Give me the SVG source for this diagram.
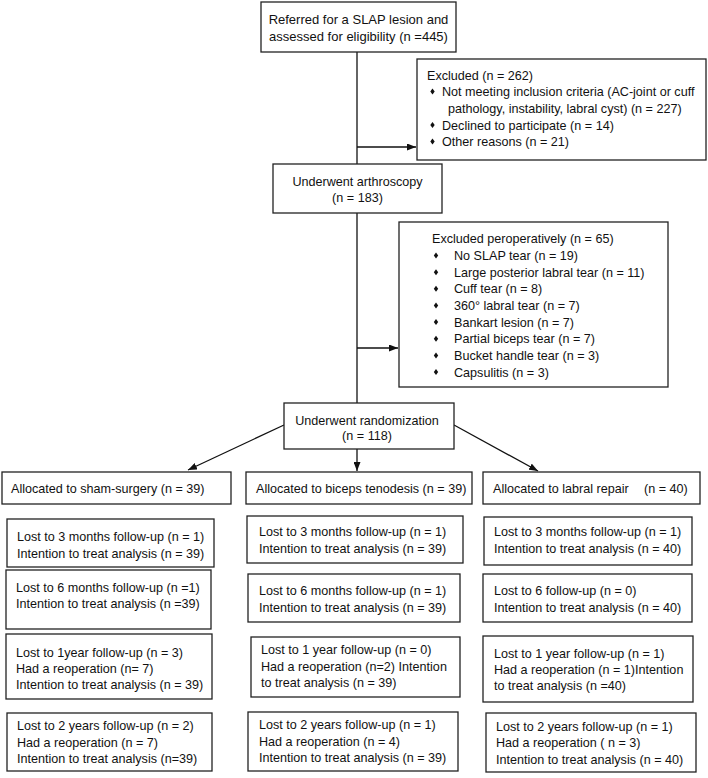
<svg xmlns="http://www.w3.org/2000/svg" xmlns:xlink="http://www.w3.org/1999/xlink" width="708" height="778" viewBox="0 0 708 778">
<style>
  .box { fill: #fff; stroke: #222; stroke-width: 1.3; }
  .t { font-family: "Liberation Sans", Arial, sans-serif; font-size: 12.6px; fill: #111; }
  .big { font-size: 13px; }
  .c { text-anchor: middle; }
  .ln { stroke: #111; stroke-width: 1.3; fill: none; }
  .bul { fill: #111; }
</style>
<defs>
  <marker id="ah" markerWidth="9" markerHeight="7" refX="9" refY="3.5" orient="auto" markerUnits="userSpaceOnUse">
    <path d="M0,0 L9,3.5 L0,7 z" fill="#111"/>
  </marker>
  <path id="b" d="M0,-3 L2.2,0 L0,3 L-2.2,0 z"/>
</defs>
<rect width="708" height="778" fill="#fff"/>

<g id="connectors">
  <line class="ln" x1="357" y1="52" x2="357" y2="164"/>
  <line class="ln" x1="357" y1="147" x2="416" y2="147" marker-end="url(#ah)"/>
  <line class="ln" x1="357" y1="213" x2="357" y2="403"/>
  <line class="ln" x1="357" y1="348" x2="398" y2="348" marker-end="url(#ah)"/>
  <line class="ln" x1="284" y1="425" x2="188" y2="470" marker-end="url(#ah)"/>
  <line class="ln" x1="357" y1="449" x2="357" y2="471" marker-end="url(#ah)"/>
  <line class="ln" x1="454" y1="425" x2="538" y2="471" marker-end="url(#ah)"/>
</g>

<g id="referred">
  <rect class="box" x="261" y="2" width="195" height="50"/>
  <text class="t big c" x="358.5" y="23.5">Referred for a SLAP lesion and</text>
  <text class="t big c" x="358.5" y="40.5">assessed for eligibility (n =445)</text>
</g>

<g id="excluded">
  <rect class="box" x="417" y="59" width="289" height="101"/>
  <text class="t" x="427" y="79.5">Excluded (n = 262)</text>
  <use class="bul" xlink:href="#b" x="432.5" y="91.5"/>
  <text class="t" x="442" y="96">Not meeting inclusion criteria (AC-joint or cuff</text>
  <text class="t" x="448" y="112.5">pathology, instability, labral cyst) (n = 227)</text>
  <use class="bul" xlink:href="#b" x="432.5" y="125"/>
  <text class="t" x="442" y="129.5">Declined to participate (n = 14)</text>
  <use class="bul" xlink:href="#b" x="432.5" y="141.5"/>
  <text class="t" x="442" y="146">Other reasons (n = 21)</text>
</g>

<g id="arthroscopy">
  <rect class="box" x="273" y="164" width="169" height="49"/>
  <text class="t c" x="357.5" y="186">Underwent arthroscopy</text>
  <text class="t c" x="357.5" y="201.5">(n = 183)</text>
</g>

<g id="peroperative">
  <rect class="box" x="399" y="222" width="269" height="165"/>
  <text class="t" x="432" y="242.5">Excluded peroperatively (n = 65)</text>
  <use class="bul" xlink:href="#b" x="436" y="255.5"/>
  <text class="t" x="454" y="260">No SLAP tear (n = 19)</text>
  <use class="bul" xlink:href="#b" x="436" y="272.2"/>
  <text class="t" x="454" y="276.7">Large posterior labral tear (n = 11)</text>
  <use class="bul" xlink:href="#b" x="436" y="288.8"/>
  <text class="t" x="454" y="293.3">Cuff tear (n = 8)</text>
  <use class="bul" xlink:href="#b" x="436" y="305.5"/>
  <text class="t" x="454" y="310">360° labral tear (n = 7)</text>
  <use class="bul" xlink:href="#b" x="436" y="322.1"/>
  <text class="t" x="454" y="326.6">Bankart lesion (n = 7)</text>
  <use class="bul" xlink:href="#b" x="436" y="338.8"/>
  <text class="t" x="454" y="343.3">Partial biceps tear (n = 7)</text>
  <use class="bul" xlink:href="#b" x="436" y="355.4"/>
  <text class="t" x="454" y="359.9">Bucket handle tear (n = 3)</text>
  <use class="bul" xlink:href="#b" x="436" y="372.1"/>
  <text class="t" x="454" y="376.6">Capsulitis (n = 3)</text>
</g>

<g id="randomization">
  <rect class="box" x="284" y="403" width="170" height="46"/>
  <text class="t c" x="367" y="424.5">Underwent randomization</text>
  <text class="t c" x="367" y="440">(n = 118)</text>
</g>

<g id="alloc-sham">
  <rect class="box" x="2" y="472" width="229" height="32"/>
  <text class="t" x="11" y="492.5">Allocated to sham-surgery (n = 39)</text>
</g>
<g id="alloc-biceps">
  <rect class="box" x="246" y="472" width="226" height="32"/>
  <text class="t" x="256" y="492.5">Allocated to biceps tenodesis (n = 39)</text>
</g>
<g id="alloc-labral">
  <rect class="box" x="483" y="472" width="217" height="32"/>
  <text class="t" x="493" y="492.5">Allocated to labral repair<tspan x="644">(n = 40)</tspan></text>
</g>

<g id="sham-3m">
  <rect class="box" x="7" y="519" width="207" height="48"/>
  <text class="t" x="17" y="541">Lost to 3 months follow-up (n = 1)</text>
  <text class="t" x="17" y="557.5">Intention to treat analysis (n = 39)</text>
</g>
<g id="sham-6m">
  <rect class="box" x="6" y="570" width="205" height="59"/>
  <text class="t" x="16" y="591.5">Lost to 6 months follow-up (n =1)</text>
  <text class="t" x="16" y="607.5">Intention to treat analysis (n =39)</text>
</g>
<g id="sham-1y">
  <rect class="box" x="6" y="634" width="206" height="65"/>
  <text class="t" x="16" y="656.5">Lost to 1year follow-up (n = 3)</text>
  <text class="t" x="16" y="672.5">Had a reoperation (n= 7)</text>
  <text class="t" x="16" y="688.5">Intention to treat analysis (n = 39)</text>
</g>
<g id="sham-2y">
  <rect class="box" x="7" y="713" width="205" height="58"/>
  <text class="t" x="17" y="729.5">Lost to 2 years follow-up (n = 2)</text>
  <text class="t" x="17" y="746.5">Had a reoperation (n = 7)</text>
  <text class="t" x="17" y="762.5">Intention to treat analysis (n=39)</text>
</g>

<g id="biceps-3m">
  <rect class="box" x="247" y="516" width="216" height="47"/>
  <text class="t" x="259" y="536">Lost to 3 months follow-up (n = 1)</text>
  <text class="t" x="259" y="553">Intention to treat analysis (n = 39)</text>
</g>
<g id="biceps-6m">
  <rect class="box" x="248" y="574" width="212" height="48"/>
  <text class="t" x="259" y="595">Lost to 6 months follow-up (n = 1)</text>
  <text class="t" x="259" y="612">Intention to treat analysis (n = 39)</text>
</g>
<g id="biceps-1y">
  <rect class="box" x="251" y="637" width="209" height="60"/>
  <text class="t" x="261" y="653.5">Lost to 1 year follow-up (n = 0)</text>
  <text class="t" x="261" y="670.5">Had a reoperation (n=2) Intention</text>
  <text class="t" x="261" y="687">to treat analysis (n = 39)</text>
</g>
<g id="biceps-2y">
  <rect class="box" x="248" y="712" width="210" height="59"/>
  <text class="t" x="259" y="729">Lost to 2 years follow-up (n = 1)</text>
  <text class="t" x="259" y="745.5">Had a reoperation (n = 4)</text>
  <text class="t" x="259" y="762">Intention to treat analysis (n = 39)</text>
</g>

<g id="labral-3m">
  <rect class="box" x="484" y="517" width="208" height="48"/>
  <text class="t" x="494" y="536">Lost to 3 months follow-up (n = 1)</text>
  <text class="t" x="494" y="553">Intention to treat analysis (n = 40)</text>
</g>
<g id="labral-6m">
  <rect class="box" x="483" y="574" width="209" height="48"/>
  <text class="t" x="494" y="595">Lost to 6 follow-up (n = 0)</text>
  <text class="t" x="494" y="612">Intention to treat analysis (n = 40)</text>
</g>
<g id="labral-1y">
  <rect class="box" x="483" y="636" width="210" height="66"/>
  <text class="t" x="494" y="658">Lost to 1 year follow-up (n = 1)</text>
  <text class="t" x="494" y="674">Had a reoperation (n = 1)Intention</text>
  <text class="t" x="494" y="690">to treat analysis (n =40)</text>
</g>
<g id="labral-2y">
  <rect class="box" x="486" y="713" width="210" height="59"/>
  <text class="t" x="496" y="731">Lost to 2 years follow-up (n = 1)</text>
  <text class="t" x="496" y="747">Had a reoperation ( n = 3)</text>
  <text class="t" x="496" y="764">Intention to treat analysis (n = 40)</text>
</g>
</svg>
